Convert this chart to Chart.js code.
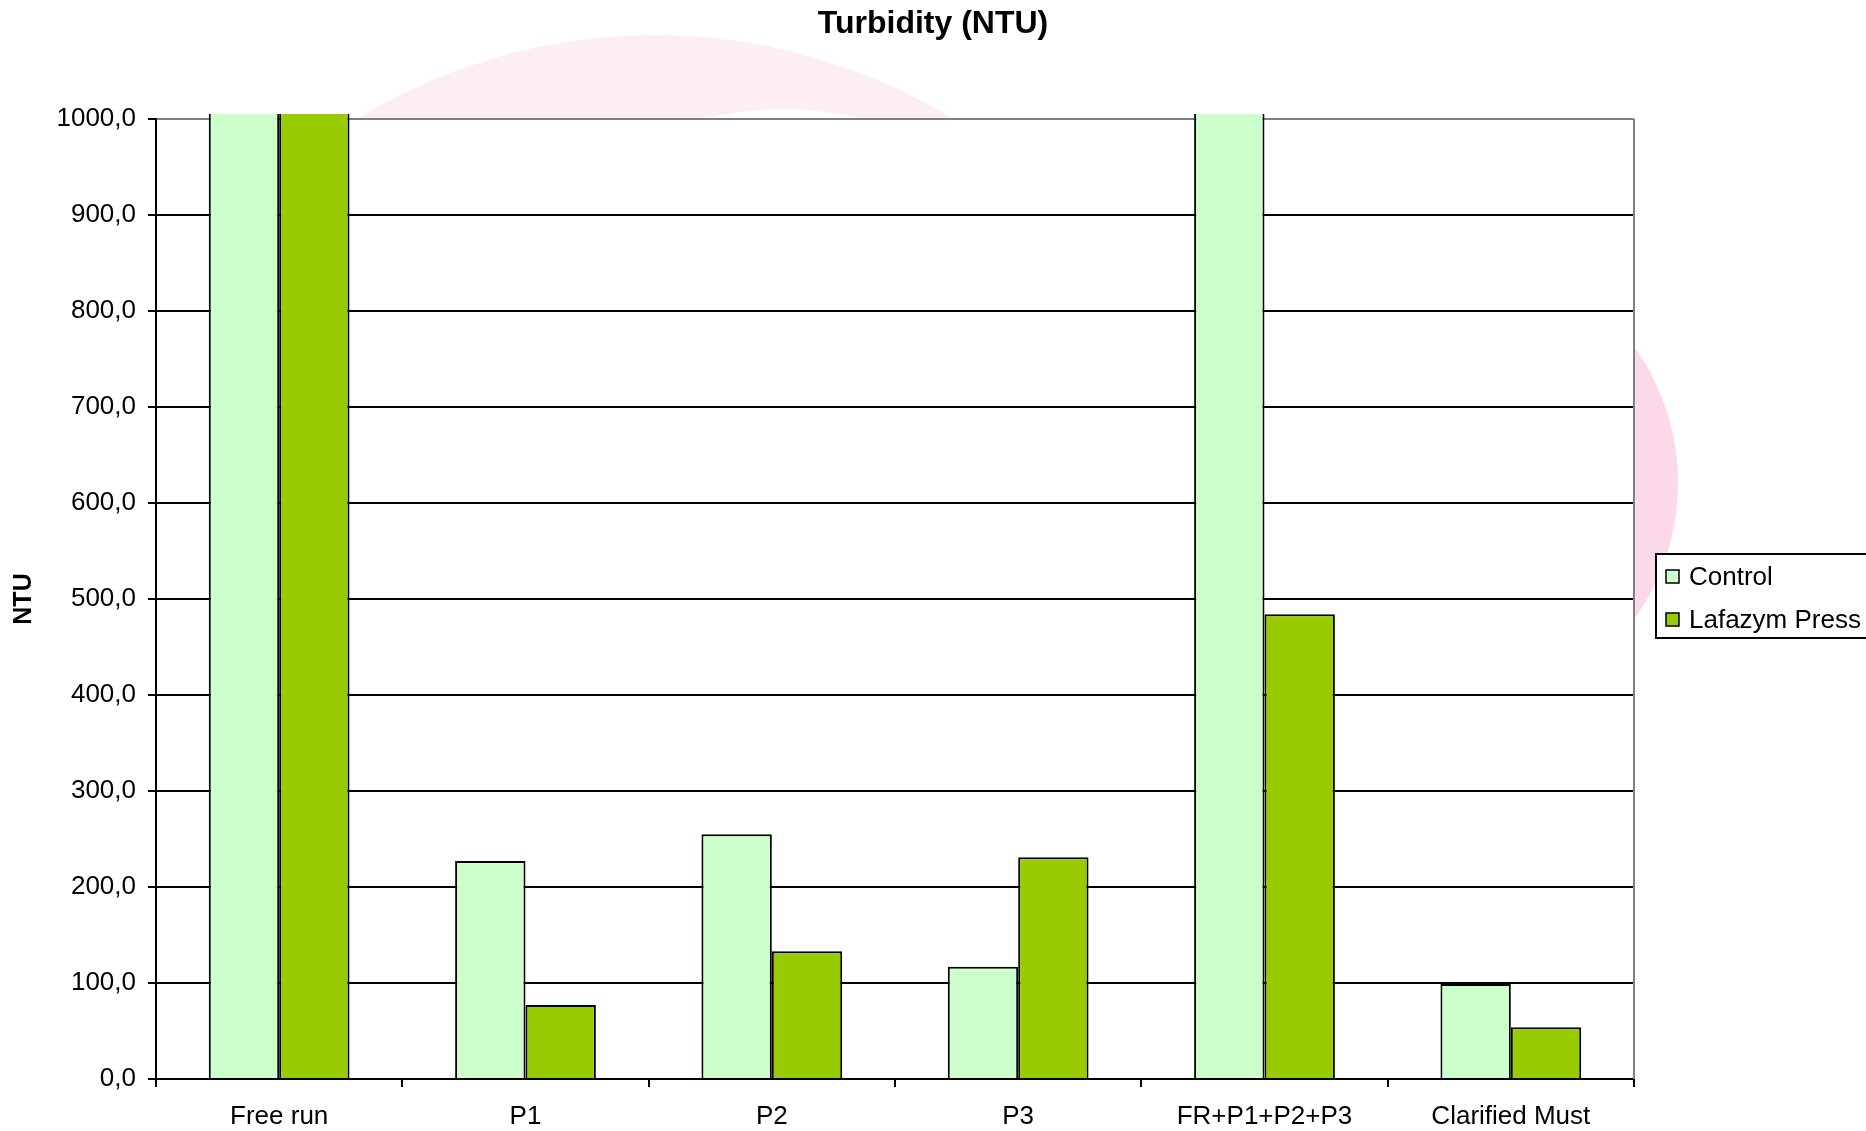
<!DOCTYPE html>
<html>
<head>
<meta charset="utf-8">
<title>Turbidity (NTU)</title>
<script src="https://cdn.jsdelivr.net/npm/chart.js@4.4.1/dist/chart.umd.min.js"></script>
<style>
  html, body { margin: 0; padding: 0; background: #ffffff; }
  #wrap { width: 1866px; height: 1131px; }
</style>
</head>
<body>
<div id="wrap"><canvas id="chart" width="1866" height="1131"></canvas></div>
<script>
// Pressing fractions and the turbidity measured for each treatment (NTU).
const categories = ['Free run', 'P1', 'P2', 'P3', 'FR+P1+P2+P3', 'Clarified Must'];
const seriesNames = ['Control', 'Lafazym Press'];
const controlValues = [1350, 227, 255, 117, 1180, 99];
const lafazymValues = [1250, 77, 133, 231, 484, 54];
const yTickStep = 100;
const yMax = 1000;

const FONT = "'Liberation Sans', Arial, Helvetica, sans-serif";

// Decimal comma, one decimal: 500 -> "500,0"
const formatTick = v => Number(v).toFixed(1).replace('.', ',');

// Faint pink emblem behind the chart: a ring peeking above the plot
// and a swell peeking out on its right side.
const emblemPlugin = {
  id: 'emblem',
  beforeDraw(chart) {
    const { ctx, chartArea: a, width } = chart;
    ctx.save();
    ctx.beginPath();
    ctx.rect(0, 0, width, a.top);
    ctx.clip();
    ctx.beginPath();
    ctx.arc(655, 607, 572, 0, Math.PI * 2);
    ctx.arc(783, 426, 317, 0, Math.PI * 2, true);
    ctx.fillStyle = '#fdedf4';
    ctx.fill('evenodd');
    ctx.restore();

    ctx.save();
    ctx.beginPath();
    ctx.rect(a.right, a.top, width - a.right, a.bottom - a.top);
    ctx.clip();
    ctx.beginPath();
    ctx.arc(1444, 483, 234, 0, Math.PI * 2);
    ctx.fillStyle = '#fbd9ea';
    ctx.fill();
    ctx.restore();
  }
};

// Grey frame line on the right side of the plot area.
const frameRightPlugin = {
  id: 'frameRight',
  beforeDatasetsDraw(chart) {
    const { ctx, chartArea: a } = chart;
    ctx.save();
    ctx.strokeStyle = '#808080';
    ctx.lineWidth = 2;
    ctx.beginPath();
    ctx.moveTo(a.right, a.top);
    ctx.lineTo(a.right, a.bottom);
    ctx.stroke();
    ctx.restore();
  }
};

// Boxed legend to the right of the plot, built from the datasets.
const boxLegendPlugin = {
  id: 'boxLegend',
  afterDraw(chart) {
    const { ctx, chartArea: a } = chart;
    const left = a.right + 22;
    const boxTop = a.top + 435;
    const boxH = 84;
    const rowY = [boxTop + 23, boxTop + 66];
    ctx.save();
    ctx.fillStyle = '#ffffff';
    ctx.fillRect(left, boxTop, 300, boxH);
    ctx.strokeStyle = '#000000';
    ctx.lineWidth = 2;
    ctx.strokeRect(left, boxTop, 300, boxH);
    ctx.font = '26px ' + FONT;
    ctx.textBaseline = 'middle';
    ctx.textAlign = 'left';
    chart.data.datasets.forEach((ds, i) => {
      const y = rowY[i];
      ctx.fillStyle = ds.backgroundColor;
      ctx.fillRect(left + 10, y - 7, 13, 13);
      ctx.strokeStyle = '#000000';
      ctx.lineWidth = 1.5;
      ctx.strokeRect(left + 10, y - 7, 13, 13);
      ctx.fillStyle = '#000000';
      ctx.fillText(ds.label, left + 33, y + 1);
    });
    ctx.restore();
  }
};

const barStyle = {
  borderColor: '#000000',
  borderWidth: 2,
  barPercentage: 1.0,
  categoryPercentage: 1 / 1.75,
  clip: { left: 0, top: 5, right: 0, bottom: 0 }
};

new Chart(document.getElementById('chart'), {
  type: 'bar',
  data: {
    labels: categories,
    datasets: [
      Object.assign({ label: seriesNames[0], data: controlValues, backgroundColor: '#ccffcc' }, barStyle),
      Object.assign({ label: seriesNames[1], data: lafazymValues, backgroundColor: '#99cc00' }, barStyle)
    ]
  },
  options: {
    responsive: false,
    animation: false,
    devicePixelRatio: 1,
    layout: { padding: 0 },
    plugins: {
      legend: { display: false },
      tooltip: { enabled: false },
      title: {
        display: true,
        text: 'Turbidity (NTU)',
        color: '#000000',
        font: { family: FONT, size: 32, weight: 'bold' },
        padding: { top: 5, bottom: 75.6 }
      }
    },
    scales: {
      x: {
        type: 'category',
        offset: true,
        grid: {
          display: true,
          offset: true,
          drawOnChartArea: false,
          drawTicks: true,
          tickLength: 8,
          color: '#000000',
          lineWidth: 2
        },
        border: { display: true, color: '#000000', width: 2 },
        ticks: {
          color: '#000000',
          font: { family: FONT, size: 26 },
          padding: 14,
          maxRotation: 0,
          autoSkip: false
        },
        afterFit(scale) { scale.height = 52; }
      },
      y: {
        type: 'linear',
        position: 'left',
        min: 0,
        max: yMax,
        grid: {
          color: c => (c.tick && c.tick.value === yMax ? '#808080' : '#000000'),
          tickColor: '#000000',
          lineWidth: 2,
          drawTicks: true,
          tickLength: 8
        },
        border: { display: true, color: '#000000', width: 2 },
        ticks: {
          stepSize: yTickStep,
          color: '#000000',
          font: { family: FONT, size: 26 },
          padding: 12,
          callback: v => formatTick(v)
        },
        title: {
          display: true,
          text: 'NTU',
          color: '#000000',
          font: { family: FONT, size: 25, weight: 'bold' },
          padding: { top: 9, bottom: 0 }
        },
        afterFit(scale) { scale.width = 156; }
      },
      // empty side column that reserves room for the legend box
      side: {
        type: 'linear',
        position: 'right',
        display: true,
        grid: { display: false, drawTicks: false },
        border: { display: false },
        ticks: { display: false },
        afterFit(scale) { scale.width = 232; }
      }
    }
  },
  plugins: [emblemPlugin, frameRightPlugin, boxLegendPlugin]
});
</script>
</body>
</html>
